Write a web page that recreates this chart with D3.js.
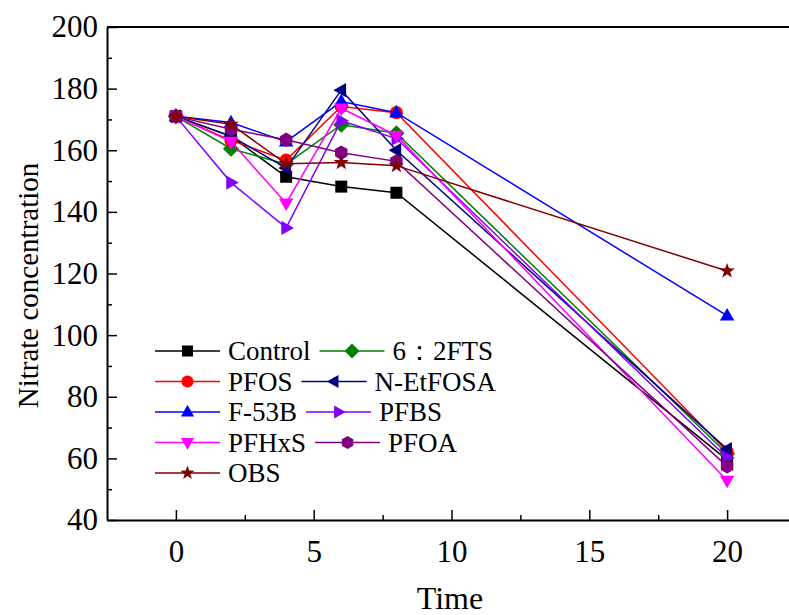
<html>
<head>
<title>Nitrate concentration</title>
<style type="text/css">
* { margin: 0; padding: 0; }
body { background: #fff; }
svg text { font-family: "Liberation Serif", "Times New Roman", serif; fill: #000; }
.axis path, .axis line { stroke: #000; }
</style>
<script src="https://cdn.jsdelivr.net/npm/d3@7"></script>
</head>
<body>
<div id="chart"></div>
<script type="text/javascript">
// sampling times
var times = [0, 2, 4, 6, 8, 20];

// series
var seriesNames = ["Control", "6\uFF1A2FTS", "PFOS", "N-EtFOSA", "F-53B", "PFBS", "PFHxS", "PFOA", "OBS"];
var control  = [171, 164.5, 151.4, 148.2, 146.2, 59.5];
var fts62    = [171, 160.5, 155.5, 168.3, 165.5, 61.5];
var pfos     = [171, 163.2, 156.8, 174.2, 172.2, 62.2];
var netfosa  = [171, 164.6, 154.2, 179.5, 160.0, 63.0];
var f53b     = [171, 169.0, 162.8, 175.8, 172.2, 106.3];
var pfbs     = [171, 149.5, 134.8, 169.6, 163.8, 60.2];
var pfhxs    = [171, 162.8, 142.8, 173.6, 164.8, 52.8];
var pfoa     = [171, 166.8, 163.4, 159.2, 156.4, 57.4];
var obs      = [171, 168.4, 155.6, 156.0, 155.0, 120.8];
var seriesValues = [control, fts62, pfos, netfosa, f53b, pfbs, pfhxs, pfoa, obs];

var colors  = ["#000000", "#008000", "#ff0000", "#000080", "#0000ff", "#8000ff", "#ff00ff", "#800080", "#800000"];
var markers = ["square", "diamond", "circle", "left", "up", "right", "down", "hexagon", "star"];

var xTicks = [0, 5, 10, 15, 20];
var xMinor = [2.5, 7.5, 12.5, 17.5];
var yTicks = [40, 60, 80, 100, 120, 140, 160, 180, 200];
var yMinor = [50, 70, 90, 110, 130, 150, 170, 190];

(function() {
  var W = 789, H = 615;
  var mLeft = 107, mTop = 27, mBottom = 520, mRight = 796;

  var svg = d3.select("#chart").append("svg")
    .attr("width", W).attr("height", H);

  var x = d3.scaleLinear().domain([-2.5, 22.5]).range([mLeft, mRight]);
  var y = d3.scaleLinear().domain([40, 200]).range([mBottom, mTop]);

  function markerPath(type, r) {
    var p = d3.path();
    function poly(pts) {
      pts.forEach(function(q, i) { if (i == 0) p.moveTo(q[0], q[1]); else p.lineTo(q[0], q[1]); });
      p.closePath();
    }
    var pts = [], i, a;
    if (type == "square") poly([[-r, -r], [r, -r], [r, r], [-r, r]]);
    else if (type == "diamond") poly([[0, -r * 1.35], [r * 1.35, 0], [0, r * 1.35], [-r * 1.35, 0]]);
    else if (type == "circle") p.arc(0, 0, r * 1.1, 0, 2 * Math.PI);
    else if (type == "up") poly([[0, -r * 1.3], [r * 1.2, r * 0.8], [-r * 1.2, r * 0.8]]);
    else if (type == "down") poly([[0, r * 1.3], [r * 1.2, -r * 0.8], [-r * 1.2, -r * 0.8]]);
    else if (type == "left") poly([[-r * 1.3, 0], [r * 0.8, -r * 1.2], [r * 0.8, r * 1.2]]);
    else if (type == "right") poly([[r * 1.3, 0], [-r * 0.8, -r * 1.2], [-r * 0.8, r * 1.2]]);
    else if (type == "hexagon") {
      for (i = 0; i < 6; i++) {
        a = Math.PI / 6 + i * Math.PI / 3;
        pts.push([Math.cos(a) * r * 1.2, Math.sin(a) * r * 1.2]);
      }
      poly(pts);
    }
    else if (type == "star") {
      for (i = 0; i < 10; i++) {
        a = -Math.PI / 2 + i * Math.PI / 5;
        var rr = (i % 2 == 0) ? r * 1.35 : r * 0.55;
        pts.push([Math.cos(a) * rr, Math.sin(a) * rr]);
      }
      poly(pts);
    }
    return p.toString();
  }

  // axes
  var xAxis = d3.axisBottom(x).tickValues(xTicks).tickSize(-10).tickSizeOuter(0).tickPadding(20);
  var gx = svg.append("g").attr("class", "axis").attr("transform", "translate(0," + mBottom + ")").call(xAxis);
  gx.select(".domain").attr("stroke-width", 2);
  gx.selectAll(".tick line").attr("stroke-width", 1.5);
  gx.selectAll("text").style("font-size", "31px");

  svg.append("g").attr("class", "axis").attr("transform", "translate(0," + mBottom + ")")
    .call(d3.axisBottom(x).tickValues(xMinor).tickSize(-5).tickSizeOuter(0).tickFormat(""))
    .call(function(g) { g.select(".domain").remove(); g.selectAll("line").attr("stroke-width", 1.5); });

  var yAxis = d3.axisLeft(y).tickValues(yTicks).tickSize(-10).tickSizeOuter(0).tickPadding(9);
  var gy = svg.append("g").attr("class", "axis").attr("transform", "translate(" + mLeft + ",0)").call(yAxis);
  gy.select(".domain").attr("stroke-width", 2);
  gy.selectAll(".tick line").attr("stroke-width", 1.5);
  gy.selectAll("text").style("font-size", "31px");

  svg.append("g").attr("class", "axis").attr("transform", "translate(" + mLeft + ",0)")
    .call(d3.axisLeft(y).tickValues(yMinor).tickSize(-5).tickSizeOuter(0).tickFormat(""))
    .call(function(g) { g.select(".domain").remove(); g.selectAll("line").attr("stroke-width", 1.5); });

  // top frame line
  svg.append("line")
    .attr("x1", mLeft).attr("x2", W).attr("y1", mTop).attr("y2", mTop)
    .attr("stroke", "#000").attr("stroke-width", 2);

  // axis titles
  svg.append("text")
    .attr("transform", "translate(38," + ((mTop + mBottom) / 2 + 12) + ") rotate(-90)")
    .attr("text-anchor", "middle")
    .style("font-size", "29px")
    .text("Nitrate concentration");

  svg.append("text")
    .attr("x", (mLeft + W) / 2 + 2).attr("y", 609)
    .attr("text-anchor", "middle")
    .style("font-size", "32px")
    .text("Time");

  // series
  var line = d3.line().x(function(d) { return x(d[0]); }).y(function(d) { return y(d[1]); });

  seriesValues.forEach(function(vals, s) {
    var pts = times.map(function(t, i) { return [t, vals[i]]; });
    var g = svg.append("g");
    g.append("path")
      .attr("d", line(pts))
      .attr("fill", "none")
      .attr("stroke", colors[s])
      .attr("stroke-width", 1.5);
    g.selectAll("path.mark").data(pts).enter().append("path")
      .attr("class", "mark")
      .attr("transform", function(d) { return "translate(" + x(d[0]) + "," + y(d[1]) + ")"; })
      .attr("d", markerPath(markers[s], 6))
      .attr("fill", colors[s]);
  });

  // legend
  var legRows = [[0, 1], [2, 3], [4, 5], [6, 7], [8]];
  var legY0 = 351, legDy = 30.5;
  legRows.forEach(function(row, r) {
    var ly = legY0 + r * legDy;
    var lx = 155;
    row.forEach(function(s) {
      var g = svg.append("g");
      g.append("line")
        .attr("x1", lx).attr("x2", lx + 65).attr("y1", ly).attr("y2", ly)
        .attr("stroke", colors[s]).attr("stroke-width", 1.5);
      g.append("path")
        .attr("transform", "translate(" + (lx + 32.5) + "," + ly + ")")
        .attr("d", markerPath(markers[s], 5.5))
        .attr("fill", colors[s]);
      var t = g.append("text")
        .attr("x", lx + 73).attr("y", ly + 9)
        .style("font-size", "27px")
        .text(seriesNames[s]);
      lx = lx + 73 + t.node().getComputedTextLength() + 9;
    });
  });
})();
</script>
</body>
</html>
